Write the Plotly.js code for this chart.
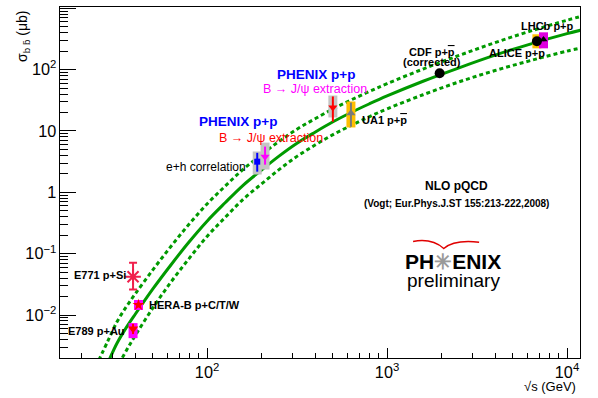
<!DOCTYPE html>
<html>
<head>
<meta charset="utf-8">
<script src="https://cdn.plot.ly/plotly-3.0.1.min.js"></script>
<style>
  html, body { margin: 0; padding: 0; background: #fff; }
  #plot { width: 598px; height: 398px; }
</style>
</head>
<body>
<div id="plot"></div>
<script>
// NLO pQCD band (Vogt): sqrt(s) in GeV, sigma in microbarn
var nloSqrtS = [25, 28.2, 31.6, 35.5, 39.8, 50.1, 63.1, 79.4, 100, 126, 158, 200, 251, 316, 398, 501, 631, 794, 1000, 1585, 2512, 3981, 6310, 10000, 12590];
var nloCentral = [7.9e-4, 1.70e-3, 3.47e-3, 6.17e-3, 1.02e-2, 2.69e-2, 6.61e-2, 0.155, 0.339, 0.676, 1.29, 2.29, 3.89, 6.31, 9.55, 14.1, 20.0, 27.5, 37.2, 64.6, 107, 172, 263, 385, 457];
var nloUpper = [1.82e-3, 3.85e-3, 7.76e-3, 1.35e-2, 2.19e-2, 5.50e-2, 0.132, 0.302, 0.646, 1.26, 2.34, 4.07, 6.76, 10.7, 15.8, 22.9, 32.0, 43.7, 58.9, 102, 170, 275, 427, 638, 767];
var nloLower = [3.0e-4, 6.6e-4, 1.38e-3, 2.60e-3, 4.57e-3, 1.32e-2, 3.47e-2, 8.32e-2, 0.191, 0.389, 0.759, 1.36, 2.34, 3.85, 5.89, 8.71, 12.3, 17.0, 22.9, 38.9, 63.1, 96.6, 141, 200, 232];

// measurements
var expNames = ['E771', 'E789', 'HERA-B', 'PHENIX e+h', 'PHENIX J/psi 200', 'PHENIX J/psi 510', 'UA1', 'CDF', 'ALICE', 'LHCb'];
var expSqrtS = [38.8, 38.8, 41.6, 190, 210, 500, 630, 1960, 6800, 7400];
var expSigma = [0.042, 0.0060, 0.0146, 3.16, 3.8, 24, 19.5, 87, 289, 310];
var statHi = [0.071, 0.0072, 0.0158, 4.4, 5.56, 36.5, 29, 90, 300, 330];
var statLo = [0.026, 0.0049, 0.0134, 2.17, 2.82, 14.1, 11.7, 84, 280, 290];
var sysHi = [null, 0.0074, 0.0176, 4.63, 6.46, 37.8, 30.2, 93, 376, 405];
var sysLo = [null, 0.0042, 0.0121, 1.95, 2.35, 16.6, 11.4, 81, 222, 222];

var FONT = 'Liberation Sans, Arial, sans-serif';
var GREEN = '#009a00';

// look of each measurement (same order as expNames)
var looks = [
    {sym: 'asterisk-open', size: 13, col: '#f0204c', box: null, cap: 4},
    {sym: 'triangle-down', size: 9, col: '#ff0000', box: '#ff00ff', cap: 0},
    {sym: 'star', size: 9, col: '#ff0000', box: '#ff00ff', cap: 0},
    {sym: 'square', size: 6, col: '#0000ff', box: '#c4c4c4', cap: 0},
    {sym: 'triangle-down', size: 8, col: '#ff00ff', box: '#c4c4c4', cap: 0},
    {sym: 'triangle-down', size: 8, col: '#ff0000', box: '#c4c4c4', cap: 0},
    {sym: 'triangle-up', size: 8, col: '#7a7a7a', box: '#ffbf00', cap: 0},
    {sym: 'circle', size: 10, col: '#000000', box: '#ffbf00', cap: 0},
    {sym: 'circle', size: 10, col: '#000000', box: '#ffbf00', cap: 0},
    {sym: 'triangle-up', size: 7, col: '#000000', box: '#e000e0', cap: 0}
];

var data = [];

data.push({x: nloSqrtS, y: nloUpper, mode: 'lines', type: 'scatter', line: {color: GREEN, width: 3, dash: '4px,3px', shape: 'spline'}, hoverinfo: 'skip'});
data.push({x: nloSqrtS, y: nloLower, mode: 'lines', type: 'scatter', line: {color: GREEN, width: 3, dash: '4px,3px', shape: 'spline'}, hoverinfo: 'skip'});
data.push({x: nloSqrtS, y: nloCentral, mode: 'lines', type: 'scatter', line: {color: GREEN, width: 3, shape: 'spline'}, hoverinfo: 'skip'});

// systematic boxes first (thick error bars), then the points
for (var i = 0; i < expNames.length; i++) {
    var lk = looks[i];
    if (lk.box && sysHi[i] !== null) {
        data.push({
            x: [expSqrtS[i]], y: [expSigma[i]], type: 'scatter', mode: 'markers',
            marker: {size: 1, opacity: 0},
            error_y: {type: 'data', symmetric: false, array: [sysHi[i] - expSigma[i]], arrayminus: [expSigma[i] - sysLo[i]],
                      color: lk.box, thickness: 9, width: 0},
            hoverinfo: 'skip'
        });
    }
}
for (var j = 0; j < expNames.length; j++) {
    var lk2 = looks[j];
    data.push({
        x: [expSqrtS[j]], y: [expSigma[j]], type: 'scatter', mode: 'markers', name: expNames[j],
        marker: {symbol: lk2.sym, size: lk2.size, color: lk2.col, line: {color: lk2.col, width: lk2.sym === 'asterisk-open' ? 2 : 0}},
        error_y: {type: 'data', symmetric: false, array: [statHi[j] - expSigma[j]], arrayminus: [expSigma[j] - statLo[j]],
                  color: lk2.col, thickness: 2, width: lk2.cap}
    });
}

function txt(s, x, y, size, color, bold, xanchor) {
    return {
        text: bold ? '<b>' + s + '</b>' : s, x: x, y: y, xref: 'paper', yref: 'paper',
        xanchor: xanchor || 'center', yanchor: 'middle', showarrow: false,
        font: {family: FONT, size: size, color: color}
    };
}

var annotations = [
    txt('PHENIX p+p', 0.492, 0.809, 13.5, '#0000ff', true),
    txt('B \u2192 J/\u03c8 extraction', 0.490, 0.766, 12.5, '#ff00ff', false),
    txt('PHENIX p+p', 0.342, 0.675, 13.5, '#0000ff', true),
    txt('B \u2192 J/\u03c8 extraction', 0.406, 0.627, 12.5, '#ff0000', false),
    txt('e+h correlation', 0.281, 0.544, 12, '#000000', false),
    txt('UA1 p+<span style="text-decoration:overline">p</span>', 0.577, 0.678, 11, '#000000', true, 'left'),
    txt('CDF p+<span style="text-decoration:overline">p</span>', 0.715, 0.872, 11, '#000000', true),
    txt('(corrected)', 0.715, 0.843, 11, '#000000', true),
    txt('LHCb p+p', 0.938, 0.946, 11, '#000000', true),
    txt('ALICE p+p', 0.879, 0.869, 11, '#000000', true),
    txt('NLO pQCD', 0.763, 0.490, 12, '#000000', true),
    txt('(Vogt; Eur.Phys.J.ST 155:213-222,2008)', 0.763, 0.439, 10, '#000000', true),
    txt('E771 p+Si', 0.077, 0.2365, 11, '#000000', true),
    txt('HERA-B p+C/T/W', 0.167, 0.151, 11, '#000000', true, 'left'),
    txt('E789 p+Au', 0.071, 0.077, 11, '#000000', true),
    txt('PH<span style="color:#9a9a9a">\u2733</span>ENIX', 0.756, 0.276, 21, '#000000', true),
    txt('preliminary', 0.756, 0.222, 19, '#000000', false),
    txt('\u221as (GeV)', 0.996, -0.080, 13, '#000000', false, 'right')
];
annotations.push({
    text: '\u03c3<sub>b b\u0304</sub> (\u03bcb)', x: -0.071, y: 0.915, xref: 'paper', yref: 'paper',
    xanchor: 'center', yanchor: 'middle', textangle: -90, showarrow: false,
    font: {family: FONT, size: 14, color: '#000000'}
});

var axisBase = {
    type: 'log', dtick: 1, exponentformat: 'power', ticks: 'inside', tickcolor: '#000',
    tickwidth: 1, showline: true, mirror: true, linecolor: '#000', linewidth: 1,
    showgrid: false, zeroline: false, tickfont: {family: FONT, size: 13, color: '#000'}
};

var layout = {
    width: 598, height: 398,
    margin: {l: 60, r: 18, t: 7, b: 40},
    paper_bgcolor: '#fff', plot_bgcolor: '#fff',
    showlegend: false,
    xaxis: Object.assign({}, axisBase, {range: [1.183, 4.072], ticklen: 10,
        minor: {dtick: 'D1', ticks: 'inside', ticklen: 5, tickcolor: '#000', showgrid: false}}),
    yaxis: Object.assign({}, axisBase, {range: [-2.70, 3.02], ticklen: 16,
        minor: {dtick: 'D1', ticks: 'inside', ticklen: 8, tickcolor: '#000', showgrid: false}}),
    annotations: annotations,
    shapes: [{
        type: 'path', xref: 'paper', yref: 'paper',
        path: 'M 0.679,0.332 Q 0.715,0.342 0.738,0.312 Q 0.758,0.338 0.806,0.330',
        line: {color: '#e00000', width: 1.5}
    }]
};

Plotly.newPlot('plot', data, layout, {staticPlot: true});
</script>
</body>
</html>
